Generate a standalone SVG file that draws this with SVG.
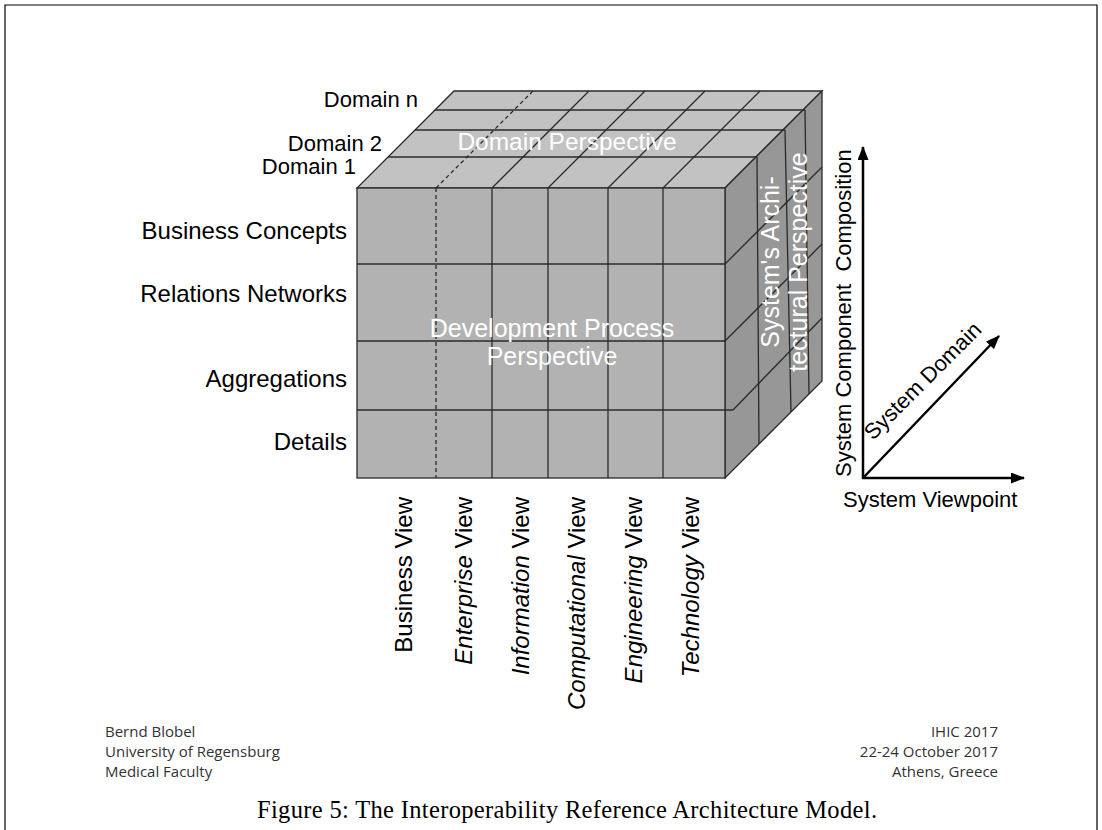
<svg xmlns="http://www.w3.org/2000/svg" width="1102" height="830" viewBox="0 0 1102 830">
<defs>
<marker id="ah" markerWidth="14" markerHeight="11" refX="13" refY="5.5" orient="auto" markerUnits="userSpaceOnUse"><path d="M0,0 L14,5.5 L0,11 z" fill="#000"/></marker>
</defs>
<style>
.lbl{font-family:"Liberation Sans",Arial,sans-serif;font-size:24px;fill:#000}
.dom{font-size:22px}
.ax-l{font-size:22px}
.it{font-style:italic}
.wt{font-family:"Liberation Sans",Arial,sans-serif;fill:#fff;font-size:25px}
.ln{stroke:#2a2a2a;stroke-width:1.3;fill:none}
.face{stroke:#2a2a2a;stroke-width:1.3}
.top{fill:#c2c2c2}
.front{fill:#b2b2b2}
.side{fill:#979797}
.dash{stroke-dasharray:4 3}
.ft{font-family:"Open Sans",sans-serif;font-size:15px;fill:#333}
.cap{font-family:"Liberation Serif","Times New Roman",serif;font-size:24.5px;fill:#000}
.ax{stroke:#000;stroke-width:2.5;fill:none;marker-end:url(#ah)}
</style>
<rect x="0" y="0" width="1102" height="830" fill="#fff"/>
<path d="M5,830 V5 H1097 V830" fill="none" stroke="#000" stroke-width="1.2"/>

<g id="cube">
  <polygon class="face top" points="357,188 725,188 822,91 454,91"/>
  <polygon class="face side" points="725,188 822,91 822,381 725,478"/>
  <rect class="face front" x="357" y="188" width="368" height="290"/>
  <!-- front grid -->
  <line class="ln dash" x1="436" y1="188" x2="436" y2="478"/>
  <line class="ln" x1="492" y1="188" x2="492" y2="478"/>
  <line class="ln" x1="548" y1="188" x2="548" y2="478"/>
  <line class="ln" x1="608" y1="188" x2="608" y2="478"/>
  <line class="ln" x1="663" y1="188" x2="663" y2="478"/>
  <line class="ln" x1="357" y1="264" x2="725" y2="264"/>
  <line class="ln" x1="357" y1="341" x2="725" y2="341"/>
  <line class="ln" x1="357" y1="410" x2="733" y2="410"/>
  <!-- top grid -->
  <line class="ln dash" x1="436" y1="188" x2="533" y2="91"/>
  <line class="ln" x1="492" y1="188" x2="589" y2="91"/>
  <line class="ln" x1="548" y1="188" x2="645" y2="91"/>
  <line class="ln" x1="608" y1="188" x2="705" y2="91"/>
  <line class="ln" x1="663" y1="188" x2="760" y2="91"/>
  <line class="ln" x1="388" y1="157" x2="757" y2="157"/>
  <line class="ln" x1="415" y1="130" x2="785" y2="130"/>
  <line class="ln" x1="435" y1="110" x2="805" y2="110"/>
  <!-- right grid -->
  <line class="ln" x1="757" y1="157" x2="759" y2="444"/>
  <line class="ln" x1="785" y1="130" x2="791" y2="412"/>
  <line class="ln" x1="805" y1="110" x2="809" y2="394"/>
  <line class="ln" x1="725" y1="264" x2="822" y2="167"/>
  <line class="ln" x1="725" y1="341" x2="822" y2="244"/>
  <line class="ln" x1="733" y1="410" x2="822" y2="318"/>
  <!-- perspective labels -->
  <text class="wt" x="567" y="150" text-anchor="middle" style="font-size:24.5px">Domain Perspective</text>
  <text class="wt" x="552" y="337" text-anchor="middle">Development Process</text>
  <text class="wt" x="552" y="365" text-anchor="middle">Perspective</text>
  <text class="wt" transform="translate(779,262) rotate(-90)" text-anchor="middle">System's Archi-</text>
  <text class="wt" transform="translate(807,262) rotate(-90)" text-anchor="middle">tectural Perspective</text>
</g>

<g id="domain-labels">
  <text class="lbl dom" x="418" y="107" text-anchor="end">Domain n</text>
  <text class="lbl dom" x="382" y="151" text-anchor="end">Domain 2</text>
  <text class="lbl dom" x="356" y="174" text-anchor="end">Domain 1</text>
</g>

<g id="level-labels">
  <text class="lbl" x="347" y="239" text-anchor="end">Business Concepts</text>
  <text class="lbl" x="347" y="302" text-anchor="end">Relations Networks</text>
  <text class="lbl" x="347" y="387" text-anchor="end">Aggregations</text>
  <text class="lbl" x="347" y="450" text-anchor="end">Details</text>
</g>

<g id="view-labels">
  <text class="lbl" transform="translate(412,497) rotate(-90)" text-anchor="end">Business View</text>
  <text class="lbl" transform="translate(472,497) rotate(-90)" text-anchor="end"><tspan class="it">Enterprise</tspan> View</text>
  <text class="lbl" transform="translate(529,497) rotate(-90)" text-anchor="end"><tspan class="it">Information</tspan> View</text>
  <text class="lbl" transform="translate(585,497) rotate(-90)" text-anchor="end"><tspan class="it">Computational</tspan> View</text>
  <text class="lbl" transform="translate(642,497) rotate(-90)" text-anchor="end"><tspan class="it">Engineering</tspan> View</text>
  <text class="lbl" transform="translate(699,497) rotate(-90)" text-anchor="end"><tspan class="it">Technology</tspan> View</text>
</g>

<g id="connectors">
  <line class="ax" x1="863" y1="479" x2="863" y2="147"/>
  <line class="ax" x1="862" y1="478" x2="1024" y2="478"/>
  <line class="ax" x1="863" y1="478" x2="999" y2="336"/>
</g>

<g id="axis-labels">
  <text class="lbl ax-l" transform="translate(851,477) rotate(-90)" xml:space="preserve" style="white-space:pre">System Component  Composition</text>
  <text class="lbl ax-l" x="843" y="507">System Viewpoint</text>
  <text class="lbl ax-l" transform="translate(873,441) rotate(-45)">System Domain</text>
</g>

<g id="footer">
  <text class="ft" x="105" y="737">Bernd Blobel</text>
  <text class="ft" x="105" y="757">University of Regensburg</text>
  <text class="ft" x="105" y="777">Medical Faculty</text>
  <text class="ft" x="998" y="737" text-anchor="end">IHIC 2017</text>
  <text class="ft" x="998" y="757" text-anchor="end">22-24 October 2017</text>
  <text class="ft" x="998" y="777" text-anchor="end">Athens, Greece</text>
</g>

<text id="caption" class="cap" x="257" y="818" textLength="620" lengthAdjust="spacing">Figure 5: The Interoperability Reference Architecture Model.</text>
</svg>
